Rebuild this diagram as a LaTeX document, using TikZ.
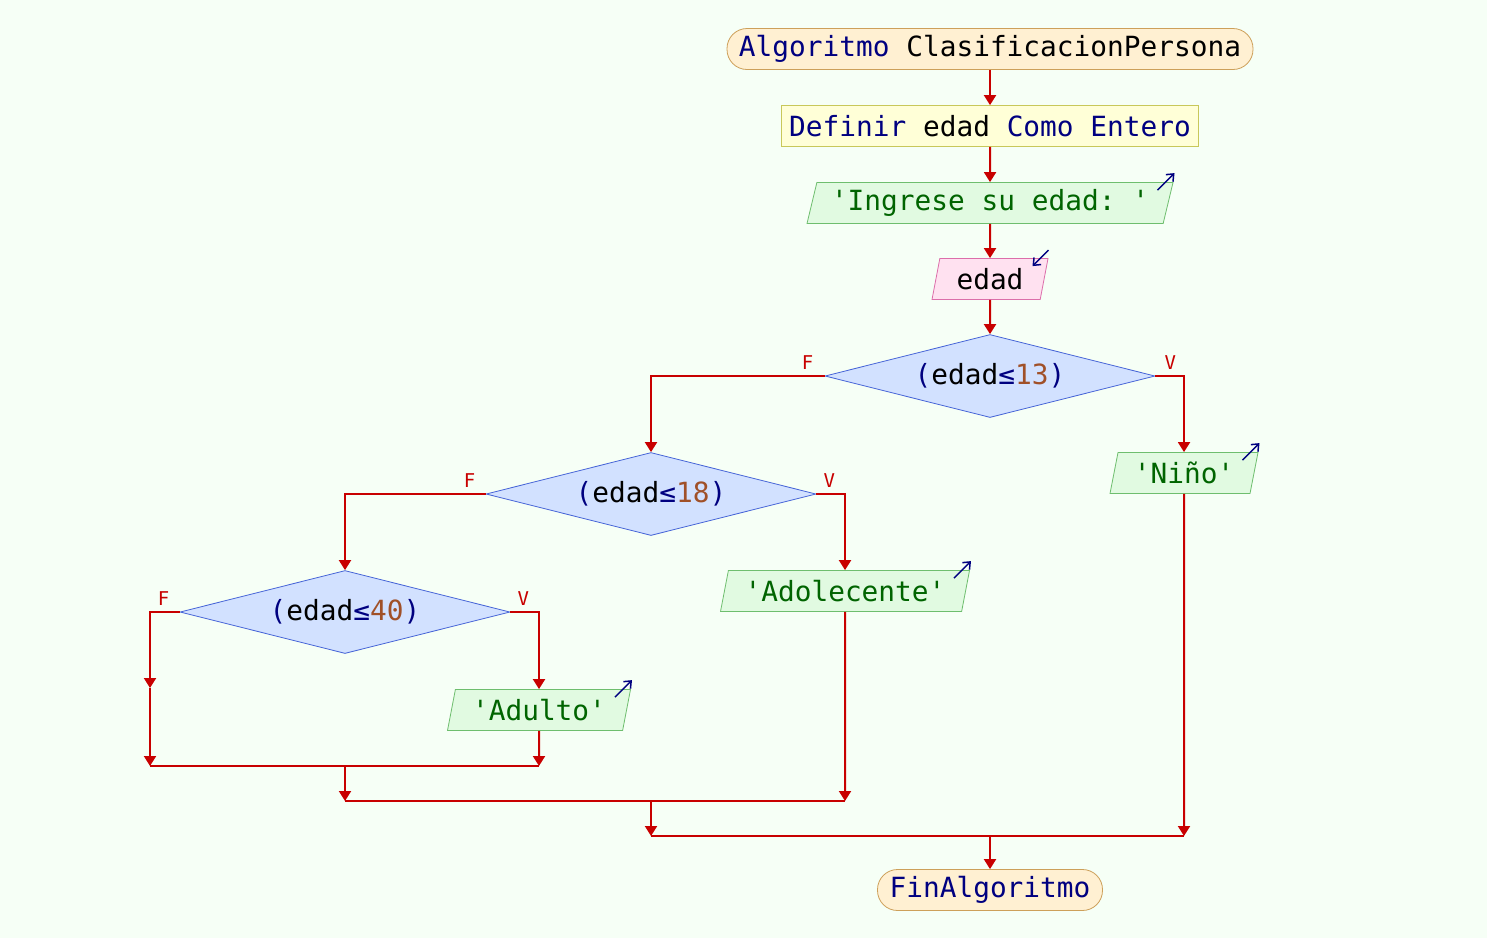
\documentclass[tikz,border=0pt]{standalone}
\usepackage{fontspec}
\setmonofont{DejaVu Sans Mono}
\usetikzlibrary{shapes.geometric,arrows.meta}
\definecolor{bgcol}{RGB}{246,255,246}
\definecolor{startfill}{RGB}{255,240,210}
\definecolor{startdraw}{RGB}{205,160,90}
\definecolor{deffill}{RGB}{255,255,215}
\definecolor{defdraw}{RGB}{200,200,90}
\definecolor{outfill}{RGB}{225,250,225}
\definecolor{outdraw}{RGB}{110,190,110}
\definecolor{infill}{RGB}{255,225,240}
\definecolor{indraw}{RGB}{220,110,170}
\definecolor{condfill}{RGB}{210,225,255}
\definecolor{conddraw}{RGB}{70,100,215}
\definecolor{flowred}{RGB}{200,0,0}
\definecolor{kwblue}{RGB}{0,0,128}
\definecolor{strgreen}{RGB}{0,100,0}
\definecolor{numbrown}{RGB}{160,80,40}

\begin{document}
\begin{tikzpicture}[x=0.5pt,y=-0.5pt,
    txt/.style={font=\ttfamily\fontsize{13.9}{16}\selectfont, inner sep=0pt},
    startbox/.style={txt, draw=startdraw, fill=startfill, rounded corners=10pt, minimum height=20.5pt},
    defbox/.style={txt, draw=defdraw, fill=deffill, minimum height=20.5pt},
    outbox/.style={txt, trapezium, trapezium left angle=70, trapezium right angle=110,
        trapezium stretches body, draw=outdraw, fill=outfill, minimum height=20.5pt, text=strgreen},
    inbox/.style={outbox, draw=indraw, fill=infill, text=black},
    cond/.style={txt, diamond, aspect=4, draw=conddraw, fill=condfill, minimum width=165pt, minimum height=41.5pt},
    flow/.style={draw=flowred, line width=1pt, -{Triangle[length=5pt,width=6pt]}},
    joinline/.style={draw=flowred, line width=1pt},
    io/.style={draw=kwblue, line width=0.75pt, -{Straight Barb[length=3pt,width=5pt]}},
    lbl/.style={font=\ttfamily\fontsize{9.5}{10}\selectfont, text=flowred, inner sep=0pt}]
    \fill[bgcol] (0,0) rectangle (1487,938);
    \useasboundingbox (0,0) rectangle (1487,938);

    \node[startbox, minimum width=263pt] (start) at (990,49) {{\color{kwblue}Algoritmo} ClasificacionPersona};
    \node[defbox, minimum width=208.5pt] (defn) at (990,126) {{\color{kwblue}Definir} edad {\color{kwblue}Como Entero}};
    \node[outbox, minimum width=183pt] (outmsg) at (990,203) {'Ingrese su edad:\ '};
    \node[inbox, minimum width=58pt] (inedad) at (990,279) {edad};
    \node[cond] (cond13) at (990,376) {{\color{kwblue}(}edad{\color{kwblue}≤}{\color{numbrown}13}{\color{kwblue})}};
    \node[outbox, minimum width=74pt] (nino) at (1184,473) {'Niño'};
    \node[cond] (cond18) at (651,494) {{\color{kwblue}(}edad{\color{kwblue}≤}{\color{numbrown}18}{\color{kwblue})}};
    \node[outbox, minimum width=124.5pt] (adol) at (845,591) {'Adolecente'};
    \node[cond] (cond40) at (345,612) {{\color{kwblue}(}edad{\color{kwblue}≤}{\color{numbrown}40}{\color{kwblue})}};
    \node[outbox, minimum width=91.5pt] (adulto) at (539,710) {'Adulto'};
    \node[startbox, minimum width=112.5pt] (fin) at (990,890) {\color{kwblue}FinAlgoritmo};

    \node[lbl] (f13) at ([shift={(-17,-13)}]cond13.west) {F};
    \node[lbl] (v13) at ([shift={(15,-13)}]cond13.east) {V};
    \node[lbl] (f18) at ([shift={(-16,-13)}]cond18.west) {F};
    \node[lbl] (v18) at ([shift={(13,-13)}]cond18.east) {V};
    \node[lbl] (f40) at ([shift={(-16,-13)}]cond40.west) {F};
    \node[lbl] (v40) at ([shift={(13,-13)}]cond40.east) {V};

    \coordinate (e40) at (150,688);
    \coordinate (j40l) at (150,766);
    \coordinate (j40r) at (539,766);
    \coordinate (m40) at (345,766);
    \coordinate (j18l) at (345,801);
    \coordinate (j18r) at (845,801);
    \coordinate (m18) at (651,801);
    \coordinate (j13l) at (651,836);
    \coordinate (j13r) at (1184,836);
    \coordinate (m13) at (990,836);

    \draw[flow] (start) -- (defn);
    \draw[flow] (defn) -- (outmsg);
    \draw[flow] (outmsg) -- (inedad);
    \draw[flow] (inedad) -- (cond13);
    \draw[flow] (cond13.west) -| (cond18.north);
    \draw[flow] (cond13.east) -| (nino.north);
    \draw[flow] (cond18.west) -| (cond40.north);
    \draw[flow] (cond18.east) -| (adol.north);
    \draw[flow] (cond40.west) -| (e40);
    \draw[flow] (e40) -- (j40l);
    \draw[flow] (cond40.east) -| (adulto.north);
    \draw[flow] (adulto.south) -- (j40r);
    \draw[joinline] (j40l) -- (j40r);
    \draw[flow] (m40) -- (j18l);
    \draw[flow] (adol.south) -- (j18r);
    \draw[joinline] (j18l) -- (j18r);
    \draw[flow] (m18) -- (j13l);
    \draw[flow] (nino.south) -- (j13r);
    \draw[joinline] (j13l) -- (j13r);
    \draw[flow] (m13) -- (fin);

    \draw[io] ([shift={(-16,8)}]outmsg.top right corner) -- ([shift={(1,-9)}]outmsg.top right corner);
    \draw[io] ([shift={(0,-8)}]inedad.top right corner) -- ([shift={(-16,8)}]inedad.top right corner);
    \draw[io] ([shift={(-16,8)}]nino.top right corner) -- ([shift={(1,-9)}]nino.top right corner);
    \draw[io] ([shift={(-16,8)}]adol.top right corner) -- ([shift={(1,-9)}]adol.top right corner);
    \draw[io] ([shift={(-16,8)}]adulto.top right corner) -- ([shift={(1,-9)}]adulto.top right corner);
\end{tikzpicture}
\end{document}
